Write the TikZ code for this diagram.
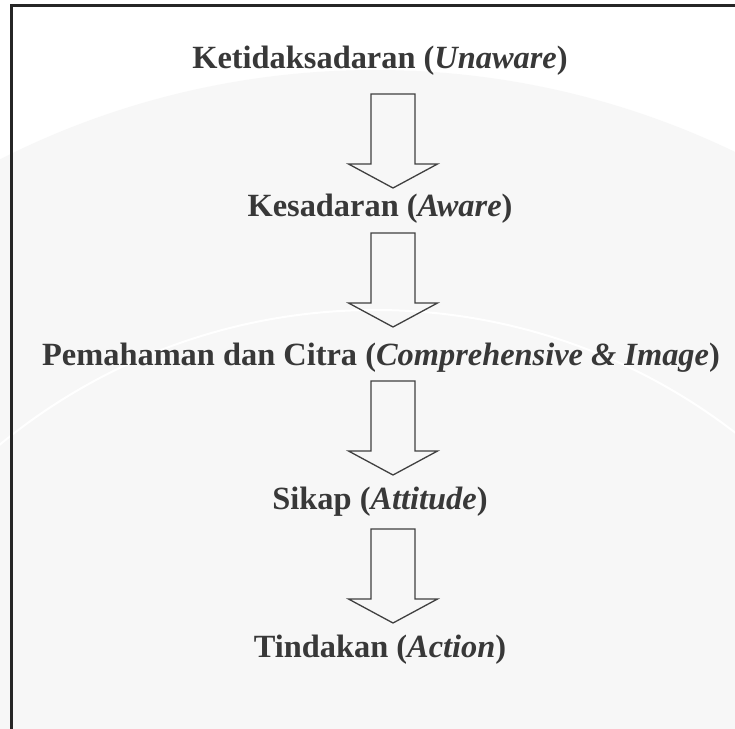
\documentclass[tikz,border=0pt]{standalone}
\usepackage{fontspec}
\setmainfont{Liberation Serif}
\begin{document}
\begin{tikzpicture}[x=1pt,y=-1pt,
  stagetext/.style={anchor=base, inner sep=0pt, text=black!78,
    font=\fontsize{32.4}{38}\selectfont\bfseries},
  arrowline/.style={draw=black!75, line width=1.3pt, line join=miter},
  frameline/.style={draw=black!85, line width=2.2pt},
  blockarrow/.pic={
    \draw[arrowline] (-22,0) -- (22,0) -- (22,70) -- (44.5,70) -- (0,94)
      -- (-44.5,70) -- (-22,70) -- cycle;
  }]
  \useasboundingbox (0,0) rectangle (735,728);
  \clip (0,0) rectangle (735,728);
  \fill[white] (0,0) rectangle (735,728);

  % faint emblem in the background
  \fill[gray!6] (375,900) circle (830);
  \draw[white, line width=2pt] (375,900) circle (590);

  % frame
  \draw[frameline] (11.5,740) -- (11.5,5.5) -- (745,5.5);

  % stages
  \node[stagetext] (s1) at (380,68)  {Ketidaksadaran (\textit{Unaware})};
  \node[stagetext] (s2) at (380,216) {Kesadaran (\textit{Aware})};
  \node[stagetext] (s3) at (381,365) {Pemahaman dan Citra (\textit{Comprehensive \& Image})};
  \node[stagetext] (s4) at (380,509) {Sikap (\textit{Attitude})};
  \node[stagetext] (s5) at (380,657) {Tindakan (\textit{Action})};

  % block arrows between stages
  \coordinate (a1) at (393,94);
  \coordinate (a2) at (393,233);
  \coordinate (a3) at (393,381);
  \coordinate (a4) at (393,529);
  \pic at (a1) {blockarrow};
  \pic at (a2) {blockarrow};
  \pic at (a3) {blockarrow};
  \pic at (a4) {blockarrow};
\end{tikzpicture}
\end{document}
